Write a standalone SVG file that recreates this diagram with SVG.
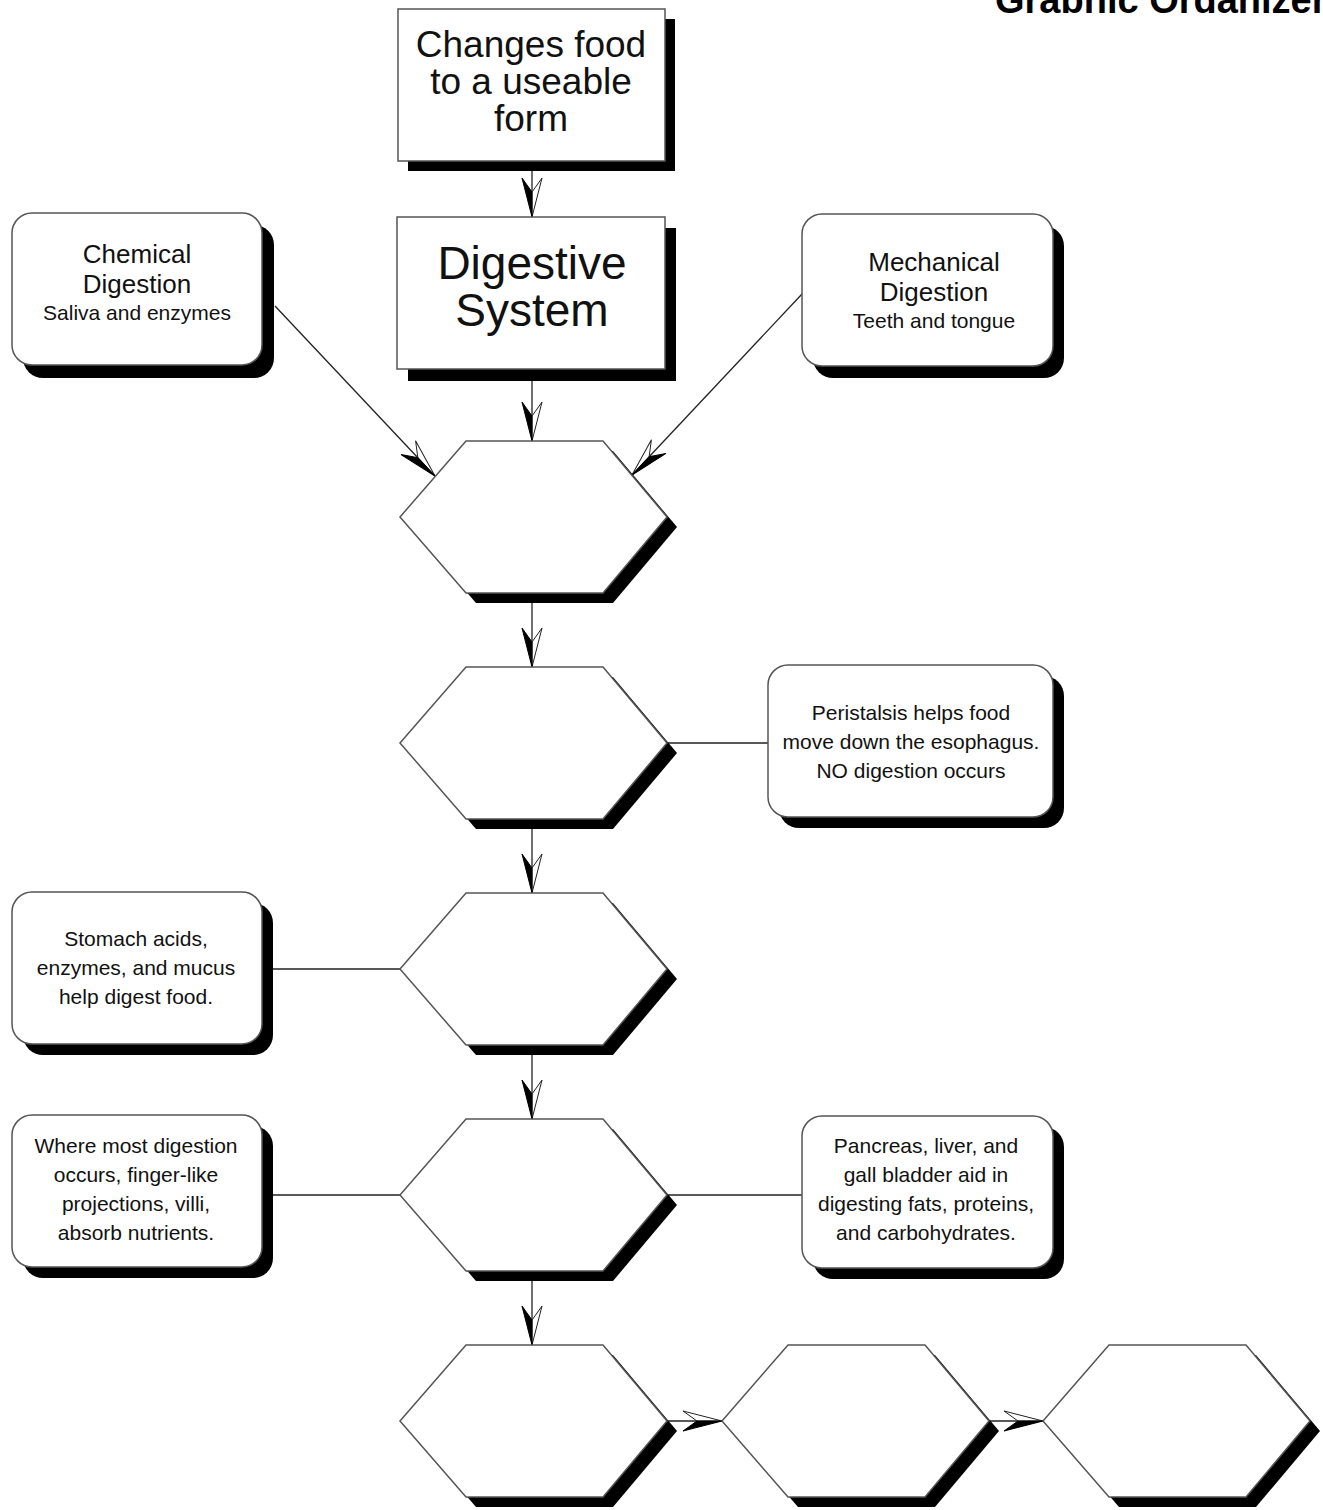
<svg xmlns="http://www.w3.org/2000/svg" width="1323" height="1510" viewBox="0 0 1323 1510">
<style>
.box{fill:#fff;stroke:#555;stroke-width:1.5}
.shadow{fill:#000}
.conn{fill:none;stroke:#222;stroke-width:1.3}
.t{font-family:"Liberation Sans",Arial,sans-serif;fill:#111;text-anchor:middle}
.big{font-size:37px}
.huge{font-size:46px}
.head{font-size:26px}
.small{font-size:21px}
.title{font-family:"Liberation Sans",Arial,sans-serif;font-weight:bold;font-size:38px;fill:#000}
</style>
<defs>
<marker id="arrA" markerUnits="userSpaceOnUse" viewBox="-42 -13 44 26" markerWidth="44" markerHeight="26" refX="0" refY="0" orient="auto">
<path d="M0,0 L-39,-10 L-25,0 Z" fill="#fff" stroke="#222" stroke-width="1"/>
<path d="M0,0 L-39,10 L-25,0 Z" fill="#000" stroke="#000" stroke-width="1"/>
</marker>
<marker id="arrB" markerUnits="userSpaceOnUse" viewBox="-42 -13 44 26" markerWidth="44" markerHeight="26" refX="0" refY="0" orient="auto">
<path d="M0,0 L-39,10 L-25,0 Z" fill="#fff" stroke="#222" stroke-width="1"/>
<path d="M0,0 L-39,-10 L-25,0 Z" fill="#000" stroke="#000" stroke-width="1"/>
</marker>
<clipPath id="titleClip"><rect x="0" y="0" width="1323" height="13"/></clipPath>
<polygon id="hex" points="0,0 66,-76 203,-76 267,0 203,76 66,76"/>
</defs>

<g id="title" clip-path="url(#titleClip)">
<text class="title" x="995" y="13">Graphic Organizer</text>
</g>

<g id="connectors">
<path class="conn" d="M532,161 V217" marker-end="url(#arrA)"/>
<path class="conn" d="M532,369 V441" marker-end="url(#arrA)"/>
<path class="conn" d="M275,306 L435,476" marker-end="url(#arrA)"/>
<path class="conn" d="M802,294 L632,475" marker-end="url(#arrB)"/>
<path class="conn" d="M532,593 V667" marker-end="url(#arrA)"/>
<path class="conn" d="M667,743 H768"/>
<path class="conn" d="M532,819 V893" marker-end="url(#arrA)"/>
<path class="conn" d="M262,969 H400"/>
<path class="conn" d="M532,1045 V1119" marker-end="url(#arrA)"/>
<path class="conn" d="M262,1195 H400"/>
<path class="conn" d="M667,1195 H802"/>
<path class="conn" d="M532,1271 V1345" marker-end="url(#arrA)"/>
<path class="conn" d="M667,1421 H722" marker-end="url(#arrA)"/>
<path class="conn" d="M989,1421 H1043" marker-end="url(#arrA)"/>
</g>

<g id="node-changes">
<rect class="shadow" x="408" y="19" width="267" height="152"/>
<rect class="box" x="398" y="9" width="267" height="152"/>
<text class="t big" x="531" y="57">Changes food</text>
<text class="t big" x="531" y="94">to a useable</text>
<text class="t big" x="531" y="131">form</text>
</g>

<g id="node-digestive">
<rect class="shadow" x="408" y="228" width="268" height="153"/>
<rect class="box" x="397" y="217" width="268" height="152"/>
<text class="t huge" x="532" y="279">Digestive</text>
<text class="t huge" x="532" y="326">System</text>
</g>

<g id="node-chemical">
<rect class="shadow" x="23" y="225" width="251" height="153" rx="20"/>
<rect class="box" x="12" y="213" width="250" height="152" rx="20"/>
<text class="t head" x="137" y="263">Chemical</text>
<text class="t head" x="137" y="293">Digestion</text>
<text class="t small" x="137" y="320">Saliva and enzymes</text>
</g>

<g id="node-mechanical">
<rect class="shadow" x="813" y="226" width="251" height="152" rx="20"/>
<rect class="box" x="802" y="214" width="251" height="152" rx="20"/>
<text class="t head" x="934" y="271">Mechanical</text>
<text class="t head" x="934" y="301">Digestion</text>
<text class="t small" x="934" y="328">Teeth and tongue</text>
</g>

<g id="node-peristalsis">
<rect class="shadow" x="779" y="676" width="285" height="152" rx="20"/>
<rect class="box" x="768" y="665" width="285" height="152" rx="20"/>
<text class="t small" x="911" y="720">Peristalsis helps food</text>
<text class="t small" x="911" y="749">move down the esophagus.</text>
<text class="t small" x="911" y="778">NO digestion occurs</text>
</g>

<g id="node-stomach">
<rect class="shadow" x="23" y="903" width="250" height="152" rx="20"/>
<rect class="box" x="12" y="892" width="250" height="152" rx="20"/>
<text class="t small" x="136" y="946">Stomach acids,</text>
<text class="t small" x="136" y="975">enzymes, and mucus</text>
<text class="t small" x="136" y="1004">help digest food.</text>
</g>

<g id="node-where">
<rect class="shadow" x="23" y="1126" width="250" height="152" rx="20"/>
<rect class="box" x="12" y="1115" width="250" height="152" rx="20"/>
<text class="t small" x="136" y="1153">Where most digestion</text>
<text class="t small" x="136" y="1182">occurs, finger-like</text>
<text class="t small" x="136" y="1211">projections, villi,</text>
<text class="t small" x="136" y="1240">absorb nutrients.</text>
</g>

<g id="node-pancreas">
<rect class="shadow" x="813" y="1127" width="251" height="152" rx="20"/>
<rect class="box" x="802" y="1116" width="251" height="152" rx="20"/>
<text class="t small" x="926" y="1153">Pancreas, liver, and</text>
<text class="t small" x="926" y="1182">gall bladder aid in</text>
<text class="t small" x="926" y="1211">digesting fats, proteins,</text>
<text class="t small" x="926" y="1240">and carbohydrates.</text>
</g>

<g id="hex-1">
<use href="#hex" class="shadow" x="410" y="527"/>
<use href="#hex" class="box" x="400" y="517"/>
</g>
<g id="hex-2">
<use href="#hex" class="shadow" x="410" y="753"/>
<use href="#hex" class="box" x="400" y="743"/>
</g>
<g id="hex-3">
<use href="#hex" class="shadow" x="410" y="979"/>
<use href="#hex" class="box" x="400" y="969"/>
</g>
<g id="hex-4">
<use href="#hex" class="shadow" x="410" y="1205"/>
<use href="#hex" class="box" x="400" y="1195"/>
</g>
<g id="hex-5">
<use href="#hex" class="shadow" x="410" y="1431"/>
<use href="#hex" class="box" x="400" y="1421"/>
</g>
<g id="hex-6">
<use href="#hex" class="shadow" x="732" y="1431"/>
<use href="#hex" class="box" x="722" y="1421"/>
</g>
<g id="hex-7">
<use href="#hex" class="shadow" x="1053" y="1431"/>
<use href="#hex" class="box" x="1043" y="1421"/>
</g>
</svg>
